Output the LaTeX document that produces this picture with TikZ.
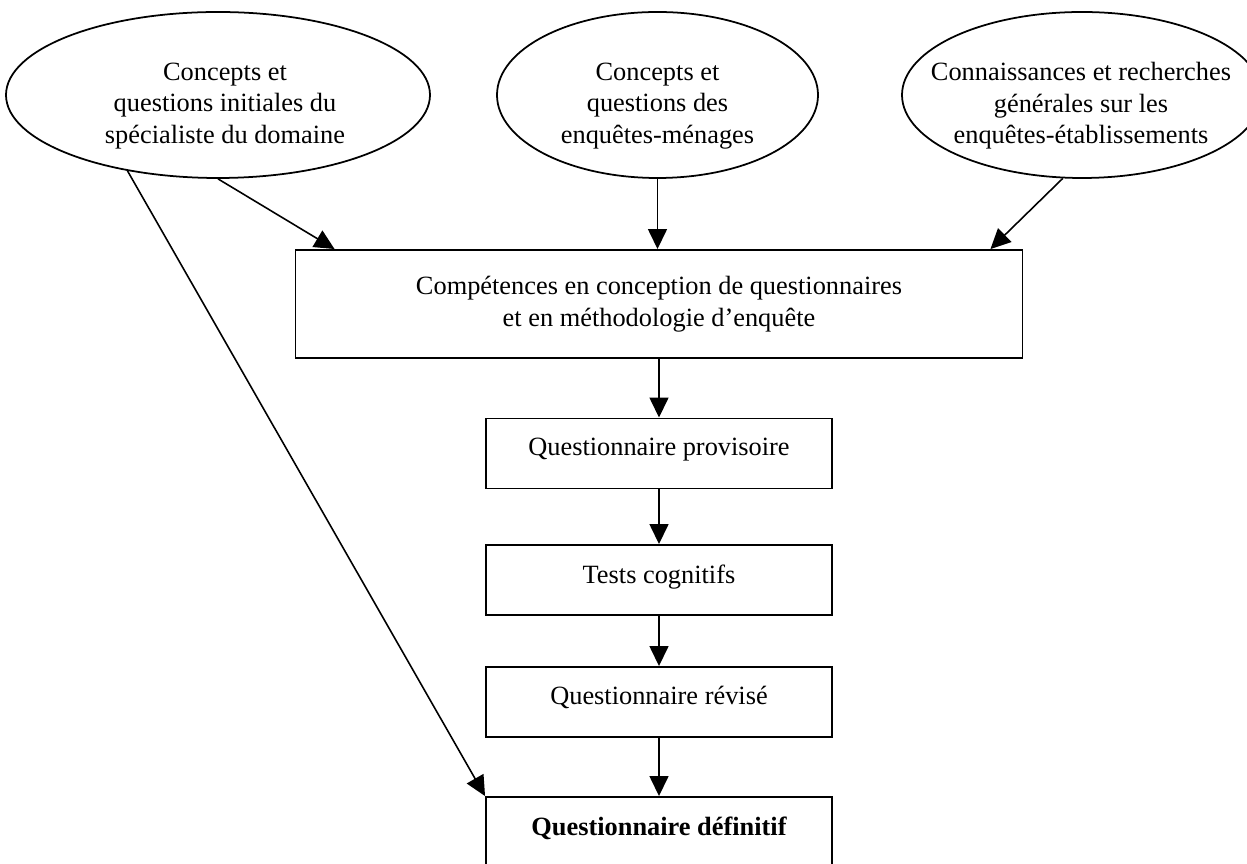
\documentclass[tikz,border=0pt]{standalone}
\usepackage{fontspec}
\setmainfont{Liberation Serif}
\usetikzlibrary{shapes.geometric,arrows.meta,calc}
\tikzset{
  source/.style={ellipse, draw=black, line width=1pt, inner sep=0pt, minimum height=3.32cm},
  sourcetext/.style={align=center, font=\fontsize{15}{18}\selectfont},
  stage/.style={rectangle, draw=black, line width=1.1pt, align=center, font=\fontsize{15}{18}\selectfont},
  smallstage/.style={stage, minimum width=6.92cm, minimum height=1.4cm, text depth=0.25cm},
  flow/.style={line width=0.9pt, -{Triangle[length=0.4cm, width=0.38cm]}},
}

\begin{document}
\begin{tikzpicture}
\useasboundingbox (0,0) rectangle (24.94,17.26);
\clip (0,0) rectangle (24.94,17.26);
\node[source, minimum width=8.48cm] (spec) at (4.36,15.36) {};
\node[sourcetext] (spectext) at (4.5,15.14) {Concepts et\\questions initiales du\\spécialiste du domaine};
\node[source, minimum width=6.42cm] (menage) at (13.15,15.36) {};
\node[sourcetext] (menagetext) at (13.15,15.14) {Concepts et\\questions des\\enquêtes-ménages};
\node[source, minimum width=7.2cm] (etab) at (21.64,15.36) {};
\node[sourcetext] (etabtext) at (21.62,15.14) {Connaissances et recherches\\générales sur les\\enquêtes-établissements};
\node[stage, minimum width=14.54cm, minimum height=2.16cm] (design) at (13.18,11.18) {Compétences en conception de questionnaires\\et en méthodologie d’enquête};
\node[smallstage] (prov) at (13.18,8.19) {Questionnaire provisoire};
\node[smallstage] (tests) at (13.18,5.66) {Tests cognitifs};
\node[smallstage] (revise) at (13.18,3.22) {Questionnaire révisé};
\node[smallstage, font=\fontsize{15}{18}\selectfont\bfseries] (final) at (13.18,0.62) {Questionnaire définitif};
\draw[flow] (spec.south) -- ($(design.north west)+(0.8,0)$);
\draw[flow] (menage.south) -- (menage.south |- design.north);
\draw[flow] (etab.257) -- ($(design.north east)+(-0.66,0)$);
\draw[flow] (spec.220) -- (final.north west);
\draw[flow] (design.south) -- (prov.north);
\draw[flow] (prov.south) -- (tests.north);
\draw[flow] (tests.south) -- (revise.north);
\draw[flow] (revise.south) -- (final.north);
\end{tikzpicture}
\end{document}
